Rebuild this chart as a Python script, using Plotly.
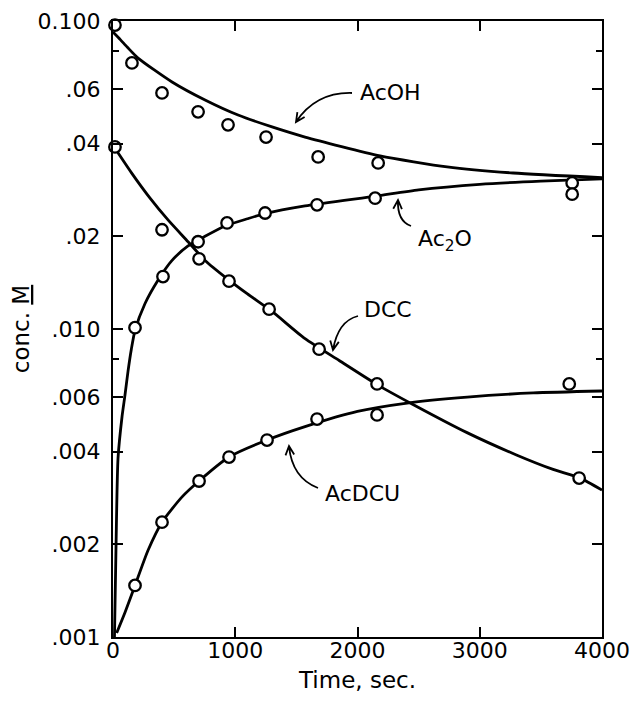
import math
import plotly.graph_objects as go

# ---------------- data ----------------
# Measured points (time in s, concentration in M)
acoh_t = [16, 155, 401, 696, 941, 1252, 1678, 2169, 3756]
acoh_c = [0.097, 0.0731, 0.0584, 0.0507, 0.0460, 0.0420, 0.0362, 0.0346, 0.0298]

ac2o_t = [180, 409, 696, 933, 1244, 1669, 2144, 3756]
ac2o_c = [0.0101, 0.0148, 0.0192, 0.0221, 0.0238, 0.0253, 0.0266, 0.0274]

dcc_t = [16, 401, 704, 949, 1277, 1686, 2160, 3813]
dcc_c = [0.0390, 0.0210, 0.0169, 0.0143, 0.0116, 0.0086, 0.00663, 0.00328]

acdcu_t = [180, 401, 704, 949, 1260, 1669, 2160, 3732]
acdcu_c = [0.00147, 0.00236, 0.00321, 0.00384, 0.00436, 0.0051, 0.00526, 0.00663]

# Fitted curves
acoh_fit_t = [0, 60, 120, 205, 483, 753, 1023, 1301, 1571, 2185, 2733, 3273, 4000]
acoh_fit_c = [0.0921, 0.0870, 0.0820, 0.0758, 0.0634, 0.0554, 0.0495, 0.0453, 0.0420,
              0.0365, 0.0336, 0.0321, 0.0310]

ac2o_fit_t = [12, 25, 41, 74, 98, 123, 150, 180, 262, 368, 483, 614, 753, 917, 1100,
              1244, 1571, 2150, 2500, 3000, 3500, 4000]
ac2o_fit_c = [0.001, 0.002, 0.0038, 0.0052, 0.0061, 0.0073, 0.0086, 0.0099, 0.0121,
              0.0144, 0.0167, 0.0186, 0.0200, 0.0216, 0.0228, 0.0237, 0.0251, 0.0270,
              0.0283, 0.0295, 0.0302, 0.0307]

dcc_fit_t = [0, 150, 303, 450, 614, 753, 941, 1100, 1301, 1571, 1850, 2160, 2450,
             2900, 3300, 3600, 3821, 4000]
dcc_fit_c = [0.0395, 0.0322, 0.0266, 0.0226, 0.0192, 0.0167, 0.0145, 0.0130, 0.0114,
             0.0093, 0.0079, 0.0066, 0.0057, 0.0046, 0.0039, 0.0035, 0.00328, 0.0030]

acdcu_fit_t = [30, 98, 180, 286, 401, 565, 704, 949, 1260, 1571, 2000, 2406,
               2897, 3437, 4000]
acdcu_fit_c = [0.00103, 0.0012, 0.00147, 0.00191, 0.00236, 0.00285, 0.00321, 0.00384,
               0.00436, 0.00482, 0.0054, 0.00575, 0.00601, 0.0062, 0.00629]

y_tickvals = [0.1, 0.06, 0.04, 0.02, 0.01, 0.006, 0.004, 0.002, 0.001]
y_ticktext = ["0.100", ".06", ".04", ".02", ".010", ".006", ".004", ".002", ".001"]
y_minor = [0.08, 0.008]
x_tickvals = [0, 1000, 2000, 3000, 4000]
x_ticktext = ["0", "1000", "2000", "3000", "4000"]

# ---------------- figure ----------------
PAGE_OFF = 8                      # default body margin of the html page
W, H = 643 - PAGE_OFF, 704 - PAGE_OFF
L, T, R, B = 113, 21, 602, 637    # plot-area box in page pixels
FONT = "DejaVu Sans"

fig = go.Figure()

for ft, fc in [(acoh_fit_t, acoh_fit_c), (ac2o_fit_t, ac2o_fit_c),
               (dcc_fit_t, dcc_fit_c), (acdcu_fit_t, acdcu_fit_c)]:
    fig.add_trace(go.Scatter(x=ft, y=fc, mode="lines",
                             line=dict(color="black", width=2.8, shape="spline",
                                       smoothing=0.6),
                             hoverinfo="skip", showlegend=False))

for pt, pc in [(acoh_t, acoh_c), (ac2o_t, ac2o_c), (dcc_t, dcc_c), (acdcu_t, acdcu_c)]:
    fig.add_trace(go.Scatter(x=pt, y=pc, mode="markers", cliponaxis=False,
                             marker=dict(symbol="circle", size=11.5, color="white",
                                         line=dict(color="black", width=2.3)),
                             showlegend=False))


def pp(x, y):
    return (x - L) / (R - L), (B - y) / (B - T)


def curved_arrow(start, ctrl, tip, arm=10):
    dx, dy = tip[0] - ctrl[0], tip[1] - ctrl[1]
    n = math.hypot(dx, dy)
    ux, uy = dx / n, dy / n
    pts = []
    for ang in (0.45, -0.45):
        ca, sa = math.cos(ang), math.sin(ang)
        bx = -(ux * ca - uy * sa)
        by = -(ux * sa + uy * ca)
        pts.append((tip[0] + arm * bx, tip[1] + arm * by))
    s, c, t = pp(*start), pp(*ctrl), pp(*tip)
    a1, a2 = pp(*pts[0]), pp(*pts[1])
    path = (f"M{s[0]},{s[1]} Q{c[0]},{c[1]} {t[0]},{t[1]} "
            f"M{a1[0]},{a1[1]} L{t[0]},{t[1]} L{a2[0]},{a2[1]}")
    fig.add_shape(type="path", path=path, xref="paper", yref="paper",
                  line=dict(color="black", width=1.8))


curved_arrow((352, 93), (316, 92), (296, 122))
curved_arrow((411, 226), (397, 221), (398, 200))
curved_arrow((358, 316), (338, 321), (333, 350))
curved_arrow((318, 488), (292, 478), (289, 446))

labels = [("AcOH", 390, 92), ("Ac<sub>2</sub>O", 445, 240), ("DCC", 388, 309),
          ("AcDCU", 362, 493)]
for txt, x, y in labels:
    xp, yp = pp(x, y)
    fig.add_annotation(text=txt, x=xp, y=yp, xref="paper", yref="paper",
                       showarrow=False, xanchor="center", yanchor="middle",
                       font=dict(family=FONT, size=22, color="black"))

axis_common = dict(showline=True, linecolor="black", linewidth=2, mirror="ticks",
                   ticks="inside", ticklen=10, tickwidth=2, tickcolor="black",
                   showgrid=False, zeroline=False, automargin=False,
                   tickfont=dict(family=FONT, size=22, color="black"))

fig.update_xaxes(range=[0, 4000], tickvals=x_tickvals, ticktext=x_ticktext,
                 ticklabelstandoff=-7,
                 title=dict(text="Time, sec.", standoff=9,
                            font=dict(family=FONT, size=23, color="black")),
                 **axis_common)
fig.update_yaxes(type="log", range=[-3, -1], tickvals=y_tickvals, ticktext=y_ticktext,
                 ticklabelstandoff=6,
                 minor=dict(tickvals=y_minor, ticks="inside", ticklen=6, tickwidth=2,
                            tickcolor="black", showgrid=False),
                 title=dict(text="conc. <u>M</u>", standoff=12,
                            font=dict(family=FONT, size=23, color="black")),
                 **axis_common)

fig.update_layout(width=W, height=H, autosize=False,
                  margin=dict(l=L - PAGE_OFF, r=W - (R - PAGE_OFF),
                              t=T - PAGE_OFF, b=H - (B - PAGE_OFF)),
                  plot_bgcolor="white", paper_bgcolor="white",
                  font=dict(family=FONT, color="black"))

fig.write_html("out.html")
